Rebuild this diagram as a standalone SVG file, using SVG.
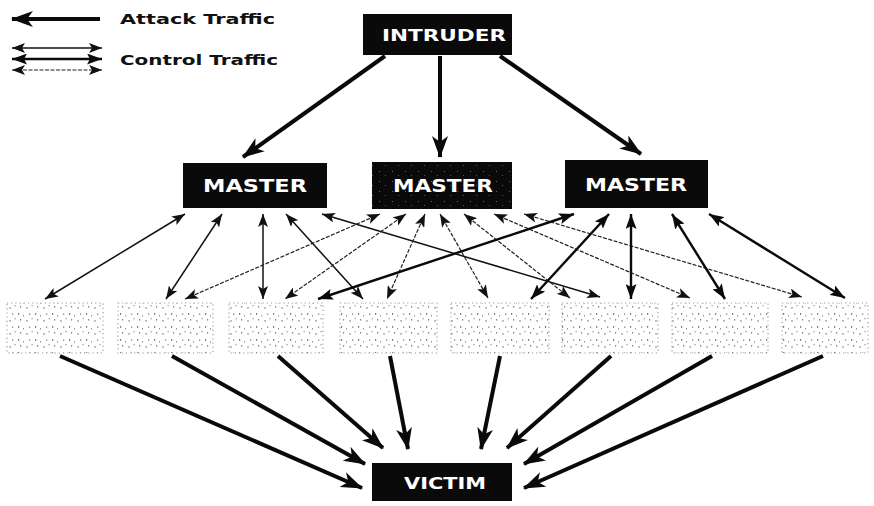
<svg xmlns="http://www.w3.org/2000/svg" width="874" height="506" viewBox="0 0 874 506">
<defs>
<style>
.box{fill:#0a0a0a;}
.lbl{font-family:"DejaVu Sans","Liberation Sans",sans-serif;font-weight:bold;fill:#fff;text-anchor:middle;}
.leg{font-family:"DejaVu Sans","Liberation Sans",sans-serif;font-weight:bold;fill:#111;font-size:14px;}
.atk{stroke:#0a0a0a;stroke-width:4;fill:none;marker-end:url(#ah);}
.c1{stroke:#111;stroke-width:1.5;fill:none;marker-start:url(#ch);marker-end:url(#ch);}
.c2{stroke:#222;stroke-width:1.2;stroke-dasharray:4 1.5;fill:none;marker-start:url(#ch);marker-end:url(#ch);}
.c3{stroke:#0a0a0a;stroke-width:2.4;fill:none;marker-start:url(#ch2);marker-end:url(#ch2);}
.zb{fill:url(#noise);stroke:#999;stroke-width:1.1;stroke-dasharray:1.2 3;}
</style>
<marker id="ah" markerUnits="userSpaceOnUse" markerWidth="22" markerHeight="16" refX="21" refY="8" orient="auto">
<path d="M0,0 L22,8 L0,16 L6,8 z" fill="#0a0a0a"/>
</marker>
<marker id="ch" markerUnits="userSpaceOnUse" markerWidth="13" markerHeight="10" refX="13" refY="5" orient="auto-start-reverse">
<path d="M0,0 L13,5 L0,10 L3,5 z" fill="#111"/>
</marker>
<marker id="ch2" markerUnits="userSpaceOnUse" markerWidth="15" markerHeight="11" refX="15" refY="5.5" orient="auto-start-reverse">
<path d="M0,0 L15,5.5 L0,11 L3,5.5 z" fill="#0a0a0a"/>
</marker>
<pattern id="noise" width="17" height="13" patternUnits="userSpaceOnUse">
<rect width="17" height="13" fill="#fff"/>
<rect x="1" y="1" width="1.2" height="1.8" fill="#777"/>
<rect x="6" y="3" width="1" height="1.6" fill="#999"/>
<rect x="12" y="1.5" width="1.3" height="1.2" fill="#777"/>
<rect x="3" y="7" width="1.2" height="1.6" fill="#888"/>
<rect x="9.5" y="8" width="1" height="1.8" fill="#777"/>
<rect x="14.5" y="6" width="1.2" height="1.3" fill="#999"/>
</pattern>
<pattern id="speck" width="13" height="10" patternUnits="userSpaceOnUse">
<rect x="2" y="1" width="1" height="1" fill="#666"/>
<rect x="8" y="5" width="1" height="1" fill="#555"/>
</pattern>
</defs>
<rect width="874" height="506" fill="#fff"/>

<g id="legend">
<line x1="100" y1="19" x2="12" y2="19" stroke="#0a0a0a" stroke-width="4" marker-end="url(#ah)"/>
<text class="leg" x="120" y="24" textLength="155" lengthAdjust="spacingAndGlyphs">Attack Traffic</text>
<line x1="12" y1="48" x2="102" y2="48" class="c1"/>
<line x1="12" y1="59" x2="102" y2="59" class="c3"/>
<line x1="12" y1="70" x2="102" y2="70" class="c2" stroke-dasharray="2 2"/>
<text class="leg" x="120" y="65" textLength="158" lengthAdjust="spacingAndGlyphs">Control Traffic</text>
</g>

<g id="intruder">
<rect class="box" x="363" y="14" width="149" height="41"/>
<text class="lbl" x="444" y="41" font-size="16" textLength="124" lengthAdjust="spacingAndGlyphs">INTRUDER</text>
</g>

<g id="master1">
<rect class="box" x="183" y="163" width="144" height="45"/>
<text class="lbl" x="255" y="192" font-size="17" textLength="104" lengthAdjust="spacingAndGlyphs">MASTER</text>
</g>
<g id="master2">
<rect class="box" x="372" y="162" width="140" height="47" fill="#161616"/>
<rect x="372" y="162" width="140" height="47" fill="url(#speck)"/>
<text class="lbl" x="443" y="192" font-size="17" textLength="100" lengthAdjust="spacingAndGlyphs">MASTER</text>
</g>
<g id="master3">
<rect class="box" x="565" y="160" width="143" height="48"/>
<text class="lbl" x="636" y="191" font-size="17" textLength="102" lengthAdjust="spacingAndGlyphs">MASTER</text>
</g>

<g id="zombie1"><rect class="zb" x="7" y="303" width="96" height="50"/></g>
<g id="zombie2"><rect class="zb" x="118" y="303" width="95" height="50"/></g>
<g id="zombie3"><rect class="zb" x="229" y="303" width="94" height="50"/></g>
<g id="zombie4"><rect class="zb" x="340" y="303" width="97" height="50"/></g>
<g id="zombie5"><rect class="zb" x="451" y="303" width="98" height="50"/></g>
<g id="zombie6"><rect class="zb" x="562" y="303" width="96" height="50"/></g>
<g id="zombie7"><rect class="zb" x="672" y="303" width="96" height="50"/></g>
<g id="zombie8"><rect class="zb" x="782" y="303" width="86" height="50"/></g>

<g id="victim">
<rect class="box" x="372" y="463" width="140" height="38"/>
<text class="lbl" x="445" y="489" font-size="15" textLength="82" lengthAdjust="spacingAndGlyphs">VICTIM</text>
</g>

<g id="connectors">
<line class="atk" x1="385" y1="56" x2="243" y2="157" stroke-width="3.5"/>
<line class="atk" x1="440" y1="56" x2="440" y2="157" stroke-width="3.5"/>
<line class="atk" x1="500" y1="56" x2="641" y2="154" stroke-width="3.5"/>

<line class="c1" x1="185" y1="214" x2="45" y2="299"/>
<line class="c1" x1="222" y1="214" x2="166" y2="299"/>
<line class="c1" x1="263" y1="214" x2="263" y2="299"/>
<line class="c1" x1="286" y1="214" x2="363" y2="299"/>
<line class="c1" x1="322" y1="214" x2="600" y2="297"/>

<line class="c2" x1="380" y1="214" x2="185" y2="299"/>
<line class="c2" x1="406" y1="214" x2="285" y2="299"/>
<line class="c2" x1="425" y1="214" x2="387" y2="299"/>
<line class="c2" x1="440" y1="214" x2="488" y2="298"/>
<line class="c2" x1="464" y1="214" x2="570" y2="298"/>
<line class="c2" x1="494" y1="214" x2="690" y2="298"/>
<line class="c2" x1="524" y1="214" x2="802" y2="297"/>

<line class="c3" x1="574" y1="214" x2="318" y2="299"/>
<line class="c3" x1="609" y1="214" x2="531" y2="299"/>
<line class="c3" x1="631" y1="214" x2="631" y2="299"/>
<line class="c3" x1="672" y1="214" x2="725" y2="299"/>
<line class="c3" x1="709" y1="214" x2="845" y2="298"/>

<line class="atk" x1="60" y1="356" x2="362" y2="488"/>
<line class="atk" x1="172" y1="356" x2="365" y2="464"/>
<line class="atk" x1="278" y1="356" x2="383" y2="448"/>
<line class="atk" x1="390" y1="356" x2="408" y2="449"/>
<line class="atk" x1="500" y1="356" x2="481" y2="449"/>
<line class="atk" x1="611" y1="356" x2="507" y2="448"/>
<line class="atk" x1="712" y1="356" x2="524" y2="464"/>
<line class="atk" x1="823" y1="356" x2="524" y2="488"/>
</g>
</svg>
